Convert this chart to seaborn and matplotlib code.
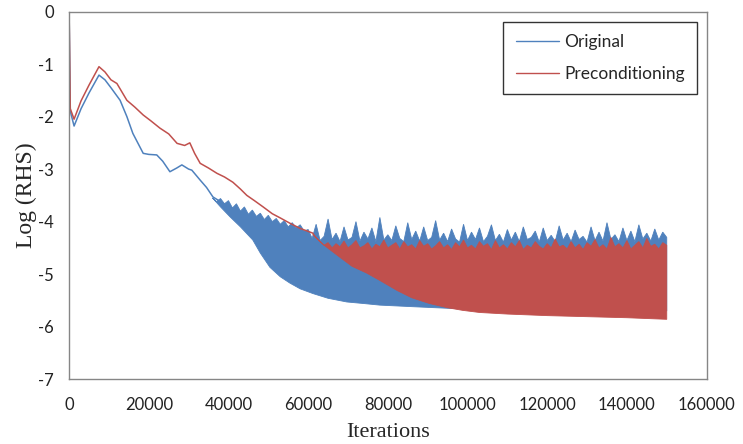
import numpy as np
import matplotlib
matplotlib.use("Agg")
import matplotlib.pyplot as plt
import seaborn as sns

# smooth part of each convergence history (iterations, log residual)
orig_x = [0, 300, 1250, 3000, 5000, 7500, 9000, 10500, 12800, 14500, 16000, 18600,
          20000, 22000, 23500, 25300, 27000, 28300, 30000, 30800, 32900, 34500,
          36100, 38000, 40000]
orig_y = [0, -1.9, -2.18, -1.85, -1.55, -1.21, -1.3, -1.45, -1.69, -2.0, -2.32, -2.7,
          -2.72, -2.73, -2.85, -3.05, -2.98, -2.92, -3.0, -3.02, -3.21, -3.35,
          -3.53, -3.62, -3.75]

prec_x = [0, 300, 1250, 3000, 5000, 7500, 9000, 10500, 12000, 14500, 16500, 18600,
          20500, 22800, 25000, 27100, 29000, 30300, 31500, 32900, 35000, 37100,
          39000, 41100, 43000, 44600, 46500, 48700, 51000, 53000, 55400, 58000, 61200]
prec_y = [0, -1.85, -2.05, -1.7, -1.4, -1.05, -1.15, -1.3, -1.37, -1.69, -1.82, -1.97,
          -2.08, -2.22, -2.33, -2.51, -2.55, -2.5, -2.7, -2.89, -2.98, -3.08,
          -3.15, -3.25, -3.38, -3.5, -3.6, -3.72, -3.85, -3.93, -4.03, -4.13, -4.22]

# oscillation band of "Original": lower and upper envelopes
orig_lo_x = [36000, 38000, 40400, 43000, 46100, 48000, 50400, 53000, 55400, 58000,
             61200, 65000, 69700, 74000, 78000, 86300, 95000, 110000, 130000, 150000]
orig_lo_y = [-3.55, -3.72, -3.91, -4.1, -4.35, -4.6, -4.87, -5.05, -5.17, -5.28,
             -5.37, -5.46, -5.53, -5.56, -5.59, -5.62, -5.65, -5.67, -5.68, -5.7]

orig_hi_x1 = [36000, 37000, 38000, 39000, 40000, 41000, 42000, 43000, 44000, 45000,
              46000, 47000, 48000, 49000, 50000, 51000, 52000, 53000, 54000, 55000,
              56000, 57000, 58000, 59000]
orig_hi_y1 = [-3.55, -3.62, -3.56, -3.66, -3.6, -3.74, -3.66, -3.8, -3.72, -3.86,
              -3.78, -3.9, -3.84, -3.96, -3.88, -4.0, -3.94, -4.05, -3.98, -4.1,
              -4.02, -4.12, -4.06, -4.18]
orig_hi_y2 = [-4.15, -4.32, -4.05, -4.36, -4.28, -3.95, -4.34, -4.22, -4.38, -4.1,
              -4.35, -4.3, -4.0, -4.37, -4.2, -4.33, -4.12, -4.38, -3.92, -4.35,
              -4.25, -4.36, -4.08, -4.32, -4.38, -4.02, -4.34, -4.18, -4.37, -4.1,
              -4.36, -4.3, -3.98, -4.35, -4.22, -4.38, -4.14, -4.33, -4.39, -4.05,
              -4.36, -4.2, -4.34, -4.12, -4.38, -4.28, -4.06, -4.36, -4.24, -4.39,
              -4.15, -4.35, -4.2, -4.38, -4.1, -4.34, -4.3, -4.18, -4.39, -4.12,
              -4.36, -4.26, -4.38, -4.08, -4.35, -4.22, -4.38, -4.16, -4.34, -4.28,
              -4.39, -4.1, -4.36, -4.2, -4.37, -4.02, -4.34, -4.25, -4.38, -4.12,
              -4.36, -4.18, -4.38, -4.06, -4.33, -4.22, -4.37, -4.14, -4.35, -4.2,
              -4.3]
orig_hi_x2 = list(range(60000, 150001, 1000))

# oscillation band of "Preconditioning"
prec_lo_x = [61200, 64000, 68000, 71000, 74700, 78000, 82300, 86000, 90500, 95000,
             98800, 103000, 110000, 120000, 130000, 140000, 150000]
prec_lo_y = [-4.25, -4.45, -4.68, -4.85, -4.98, -5.12, -5.31, -5.45, -5.56, -5.64,
             -5.69, -5.73, -5.76, -5.79, -5.81, -5.83, -5.86]

prec_hi_x = [61200] + list(range(62000, 150001, 1000))
prec_hi_y = [-4.22,
             -4.3, -4.38, -4.45, -4.4, -4.5, -4.42, -4.48, -4.37,
             -4.5, -4.44, -4.36, -4.5, -4.46, -4.4, -4.52, -4.43, -4.48, -4.35,
             -4.5, -4.45, -4.4, -4.52, -4.38, -4.48, -4.44, -4.52, -4.36, -4.47,
             -4.42, -4.52, -4.46, -4.38, -4.5, -4.44, -4.53, -4.4, -4.48, -4.35,
             -4.5, -4.45, -4.52, -4.38, -4.47, -4.42, -4.53, -4.36, -4.5, -4.44,
             -4.52, -4.4, -4.48, -4.36, -4.53, -4.45, -4.5, -4.38, -4.47, -4.52,
             -4.42, -4.5, -4.33, -4.48, -4.45, -4.52, -4.38, -4.5, -4.43, -4.53,
             -4.4, -4.47, -4.34, -4.5, -4.44, -4.52, -4.3, -4.48, -4.42, -4.5,
             -4.36, -4.52, -4.45, -4.38, -4.5, -4.32, -4.47, -4.43, -4.52, -4.4,
             -4.45]

blue = "#4F81BD"
red = "#C0504D"
grey = "#868686"

sns.set_style("white")
plt.rcParams["font.family"] = ["Lato", "DejaVu Sans"]

fig = plt.figure(figsize=(7.43, 4.44), dpi=100)
ax = fig.add_axes([0.093, 0.146, 0.858, 0.828])

sns.lineplot(x=orig_x, y=orig_y, color=blue, lw=1.1, label="Original", ax=ax,
             sort=False, estimator=None)
hx = orig_hi_x1 + orig_hi_x2
hy = orig_hi_y1 + orig_hi_y2
ax.fill(hx + orig_lo_x[::-1], hy + orig_lo_y[::-1], color=blue, lw=0.6, ec=blue)

sns.lineplot(x=prec_x, y=prec_y, color=red, lw=1.1, label="Preconditioning", ax=ax,
             sort=False, estimator=None)
ax.fill(prec_hi_x + prec_lo_x[::-1], prec_hi_y + prec_lo_y[::-1],
        color=red, lw=0.6, ec=red)

ax.set_xlim(0, 160000)
ax.set_ylim(-7, 0)
ax.set_xticks(np.arange(0, 160001, 20000))
ax.set_yticks(np.arange(-7, 1, 1))
ax.set_xticklabels([str(v) for v in range(0, 160001, 20000)])
ax.set_yticklabels([str(v) for v in range(-7, 1)])

for s in ax.spines.values():
    s.set_color(grey)
    s.set_linewidth(1.0)
ax.tick_params(axis="both", direction="out", length=5, width=1, color=grey,
               labelsize=12, labelcolor="#222222")
ax.tick_params(axis="x", pad=8)
ax.tick_params(axis="y", pad=6)

ax.set_xlabel("Iterations", family="Liberation Serif", fontsize=16, labelpad=7)
ax.set_ylabel("Log (RHS)", family="Liberation Serif", fontsize=17, labelpad=1)

leg = ax.legend(loc="upper right", bbox_to_anchor=(0.985, 0.972), fontsize=12.5,
                frameon=True, fancybox=False, handlelength=2.5, handletextpad=0.3,
                borderpad=0.7, labelspacing=0.9, borderaxespad=0)
leg.get_frame().set_edgecolor("black")
leg.get_frame().set_linewidth(1.0)
for h in leg.get_lines():
    h.set_linewidth(1.0)

fig.savefig("out.png", dpi=100)
